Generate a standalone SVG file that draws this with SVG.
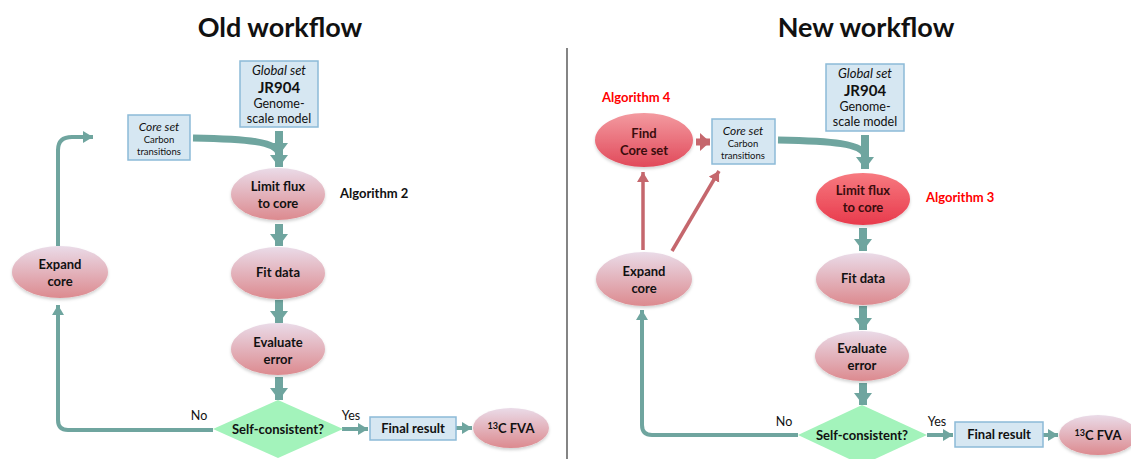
<svg xmlns="http://www.w3.org/2000/svg" width="1131" height="459" viewBox="0 0 1131 459">
<defs>
<linearGradient id="pink" x1="0" y1="0" x2="0" y2="1">
<stop offset="0" stop-color="#eadbe8"/>
<stop offset="1" stop-color="#dc8a8f"/>
</linearGradient>
<linearGradient id="red" x1="0" y1="0" x2="0" y2="1">
<stop offset="0" stop-color="#f39aa0"/>
<stop offset="1" stop-color="#e1495a"/>
</linearGradient>
<linearGradient id="red2" x1="0" y1="0" x2="0" y2="1">
<stop offset="0" stop-color="#f77a80"/>
<stop offset="1" stop-color="#e83a4c"/>
</linearGradient>
<filter id="sh" x="-20%" y="-20%" width="140%" height="150%">
<feDropShadow dx="0" dy="2" stdDeviation="1.5" flood-color="#000" flood-opacity="0.18"/>
</filter>
<marker id="big" markerUnits="userSpaceOnUse" markerWidth="20" markerHeight="20" refX="12" refY="9" orient="auto">
<path d="M0,0 L12,9 L0,18 Z" fill="#6fa59f"/>
</marker>
<marker id="sm" markerUnits="userSpaceOnUse" markerWidth="14" markerHeight="14" refX="10" refY="6" orient="auto">
<path d="M0,0 L10,6 L0,12 Z" fill="#6fa59f"/>
</marker>
<marker id="rsm" markerUnits="userSpaceOnUse" markerWidth="14" markerHeight="14" refX="10" refY="6" orient="auto">
<path d="M0,0 L10,6 L0,12 Z" fill="#c5676d"/>
</marker>
<marker id="rbig" markerUnits="userSpaceOnUse" markerWidth="16" markerHeight="20" refX="10" refY="9" orient="auto">
<path d="M0,0 L10,9 L0,18 Z" fill="#c5676d"/>
</marker>
</defs>
<style>
text{font-family:Lato,"Open Sans","Liberation Sans",sans-serif;fill:#111;text-anchor:middle}
.t{font-size:27px;font-weight:bold}
.b{font-size:13px;font-weight:bold}
.dr{fill:#3a0d0d}
.alg{font-size:13px;font-weight:bold;fill:#ff0000;text-anchor:start}
.algb{font-size:13px;font-weight:bold;text-anchor:start}
.it{font-size:13px;font-style:italic}
.jr{font-size:15px;font-weight:bold}
.n{font-size:12.5px}
.s{font-size:9.5px}
.l{font-size:12.5px}
.box{fill:#d6e7f2;stroke:#8cbad7;stroke-width:1.5}
.pe{fill:url(#pink);filter:url(#sh)}
.re{fill:url(#red);filter:url(#sh)}
.re2{fill:url(#red2);filter:url(#sh)}
.dia{fill:#a3f3bb}
.th{fill:none;stroke:#6fa59f;stroke-width:8;marker-end:url(#big)}
.tn{fill:none;stroke:#6fa59f;stroke-width:4;marker-end:url(#sm)}
.rn{fill:none;stroke:#c5676d;stroke-width:3.5;marker-end:url(#rsm)}
</style>

<text class="t" x="280" y="37">Old workflow</text>
<text class="t" x="866" y="37">New workflow</text>
<line x1="567" y1="48" x2="567" y2="459" stroke="#333" stroke-width="1.2"/>

<g id="connectors">
<!-- old -->
<path class="th" d="M279,131 L279,155"/>
<path d="M193,138 C245,139 279,141 279,155" fill="none" stroke="#6fa59f" stroke-width="7"/>
<path class="th" d="M279,150 L279,167"/>
<path class="th" d="M279,224 L279,246"/>
<path class="th" d="M279,300 L279,323"/>
<path class="th" d="M279,377 L279,400"/>
<path class="tn" d="M213,430 L68,430 Q58,430 58,420 L58,305"/>
<path class="tn" d="M58,246 L58,150 Q58,137 72,137 L93,137"/>
<path class="tn" d="M342,429 L368,429"/>
<path class="tn" d="M456,428 L472,428"/>
<!-- new -->
<path d="M778,140 C830,141 865,143 865,157" fill="none" stroke="#6fa59f" stroke-width="7"/>
<path class="th" d="M865,135 L865,169"/>
<path class="th" d="M863,228 L863,251"/>
<path class="th" d="M863,306 L863,330"/>
<path class="th" d="M863,383 L863,405"/>
<path class="tn" d="M798,435 L652,435 Q642,435 642,425 L642,310"/>
<path class="tn" d="M927,435 L953,435"/>
<path class="tn" d="M1043,435 L1058,435"/>
<path d="M696,142 L710,142" fill="none" stroke="#c5676d" stroke-width="7" marker-end="url(#rbig)"/>
<path class="rn" d="M643,250 L643,172"/>
<path class="rn" d="M672,251 L719,171"/>
</g>

<!-- OLD -->
<g id="old-global">
<rect class="box" x="240" y="61" width="78" height="66"/>
<text class="it" x="279" y="75">Global set</text>
<text class="jr" x="279" y="93">JR904</text>
<text class="n" x="279" y="108">Genome-</text>
<text class="n" x="279" y="123">scale model</text>
</g>
<g id="old-core">
<rect class="box" x="128" y="115" width="62" height="45"/>
<text class="it" x="159" y="131" style="font-size:12px">Core set</text>
<text class="s" x="159" y="143">Carbon</text>
<text class="s" x="159" y="155">transitions</text>
</g>
<g id="old-limit">
<ellipse class="pe" cx="278" cy="194" rx="47" ry="26"/>
<text class="b" x="278" y="191">Limit flux</text>
<text class="b" x="278" y="208">to core</text>
</g>
<text class="algb" x="340" y="198">Algorithm 2</text>
<g id="old-fit">
<ellipse class="pe" cx="278" cy="273" rx="47" ry="26"/>
<text class="b" x="278" y="277">Fit data</text>
</g>
<g id="old-eval">
<ellipse class="pe" cx="278" cy="349" rx="47" ry="26"/>
<text class="b" x="278" y="347">Evaluate</text>
<text class="b" x="278" y="364">error</text>
</g>
<g id="old-self">
<polygon class="dia" points="278,400 343,429 278,458 213,429"/>
<text class="b" x="278" y="434">Self-consistent?</text>
</g>
<text class="l" x="199" y="420">No</text>
<text class="l" x="351" y="420">Yes</text>
<g id="old-final">
<rect class="box" x="370" y="417" width="86" height="23"/>
<text class="b" x="413" y="433">Final result</text>
</g>
<g id="old-fva">
<ellipse class="pe" cx="511" cy="428" rx="38" ry="20"/>
<text class="b" x="511" y="433"><tspan font-size="9" dy="-4">13</tspan><tspan dy="4">C FVA</tspan></text>
</g>
<g id="old-expand">
<ellipse class="pe" cx="60" cy="272" rx="48" ry="26"/>
<text class="b" x="60" y="269">Expand</text>
<text class="b" x="60" y="286">core</text>
</g>

<!-- NEW -->
<g id="new-global">
<rect class="box" x="826" y="64" width="78" height="67"/>
<text class="it" x="865" y="78">Global set</text>
<text class="jr" x="865" y="96">JR904</text>
<text class="n" x="865" y="111">Genome-</text>
<text class="n" x="865" y="126">scale model</text>
</g>
<g id="new-core">
<rect class="box" x="712" y="119" width="63" height="45"/>
<text class="it" x="743" y="135" style="font-size:12px">Core set</text>
<text class="s" x="743" y="147">Carbon</text>
<text class="s" x="743" y="159">transitions</text>
</g>
<text class="alg" x="602" y="102">Algorithm 4</text>
<g id="new-find">
<ellipse class="re" cx="644" cy="140" rx="49" ry="27"/>
<text class="b dr" x="644" y="138">Find</text>
<text class="b dr" x="644" y="155">Core set</text>
</g>
<g id="new-limit">
<ellipse class="re2" cx="863" cy="199" rx="47" ry="26"/>
<text class="b dr" x="863" y="195">Limit flux</text>
<text class="b dr" x="863" y="212">to core</text>
</g>
<text class="alg" x="926" y="202">Algorithm 3</text>
<g id="new-fit">
<ellipse class="pe" cx="863" cy="279" rx="47" ry="26"/>
<text class="b" x="863" y="283">Fit data</text>
</g>
<g id="new-eval">
<ellipse class="pe" cx="862" cy="356" rx="47" ry="25"/>
<text class="b" x="862" y="353">Evaluate</text>
<text class="b" x="862" y="370">error</text>
</g>
<g id="new-self">
<polygon class="dia" points="862,405 927,435 862,465 798,435"/>
<text class="b" x="862" y="440">Self-consistent?</text>
</g>
<text class="l" x="784" y="426">No</text>
<text class="l" x="937" y="426">Yes</text>
<g id="new-final">
<rect class="box" x="955" y="422" width="88" height="25"/>
<text class="b" x="999" y="439">Final result</text>
</g>
<g id="new-fva">
<ellipse class="pe" cx="1098" cy="435" rx="39" ry="20"/>
<text class="b" x="1098" y="440"><tspan font-size="9" dy="-4">13</tspan><tspan dy="4">C FVA</tspan></text>
</g>
<g id="new-expand">
<ellipse class="pe" cx="644" cy="279" rx="48" ry="27"/>
<text class="b" x="644" y="276">Expand</text>
<text class="b" x="644" y="293">core</text>
</g>
</svg>
